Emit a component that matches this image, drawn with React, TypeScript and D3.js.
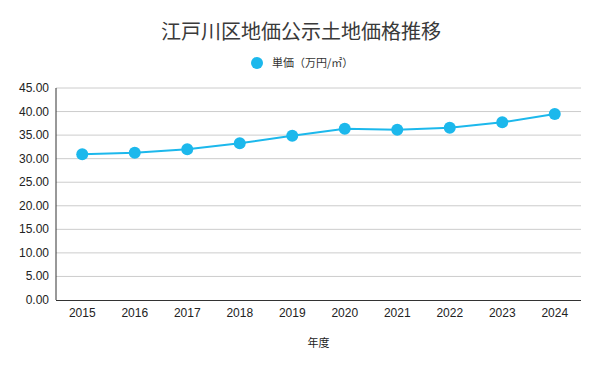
import React from "react";
import * as d3 from "d3";

const years = ["2015", "2016", "2017", "2018", "2019", "2020", "2021", "2022", "2023", "2024"];
const values = [30.93, 31.27, 31.99, 33.26, 34.88, 36.36, 36.15, 36.57, 37.72, 39.48];
const yTicks = [0, 5, 10, 15, 20, 25, 30, 35, 40, 45];
const title = "江戸川区地価公示土地価格推移";
const seriesName = "単価（万円/㎡）";
const xTitle = "年度";

const W = 600, H = 371;
const M = { left: 56, right: 19, top: 88, bottom: 71 };
const COLOR = "#1cb8ec";

export default function App() {
  const x = d3.scalePoint<string>().domain(years).range([M.left, W - M.right]).padding(0.5);
  const y = d3.scaleLinear().domain([0, 45]).range([H - M.bottom, M.top]);
  const line = d3.line<number>().x((_, i) => x(years[i])!).y((d) => y(d));
  const font = "'Liberation Sans', Arial, sans-serif";
  const cjk = "'Noto Sans CJK JP', sans-serif";
  return (
    <svg width={W} height={H} style={{ position: "absolute", left: 0, top: 0, background: "#fff" }}>
      <rect width={W} height={H} fill="#fff" />
      <text x={301} y={39} textAnchor="middle" fontFamily={cjk} fontSize={20} fill="#3a3a3a">{title}</text>
      <circle cx={257} cy={63} r={6} fill={COLOR} />
      <text x={272} y={67} fontFamily={cjk} fontSize={11} fill="#333">{seriesName}</text>
      {yTicks.map((t) => (
        <g key={t}>
          {t > 0 && <line x1={M.left} x2={W - M.right} y1={y(t)} y2={y(t)} stroke="#ccc" strokeWidth={1} />}
          <text x={M.left - 7} y={y(t) + 4} textAnchor="end" fontFamily={font} fontSize={12} fill="#222">{t.toFixed(2)}</text>
        </g>
      ))}
      <line x1={M.left} x2={M.left} y1={M.top} y2={H - M.bottom} stroke="#333" strokeWidth={1} />
      <line x1={M.left} x2={W - M.right} y1={H - M.bottom + 0.5} y2={H - M.bottom + 0.5} stroke="#333" strokeWidth={1} />
      {years.map((yr) => (
        <text key={yr} x={x(yr)!} y={317} textAnchor="middle" fontFamily={font} fontSize={12} fill="#222">{yr}</text>
      ))}
      <text x={(M.left + W - M.right) / 2} y={347} textAnchor="middle" fontFamily={cjk} fontSize={11} fill="#222">{xTitle}</text>
      <path d={line(values)!} fill="none" stroke={COLOR} strokeWidth={2} />
      {values.map((v, i) => (
        <circle key={i} cx={x(years[i])!} cy={y(v)} r={6} fill={COLOR} />
      ))}
    </svg>
  );
}
